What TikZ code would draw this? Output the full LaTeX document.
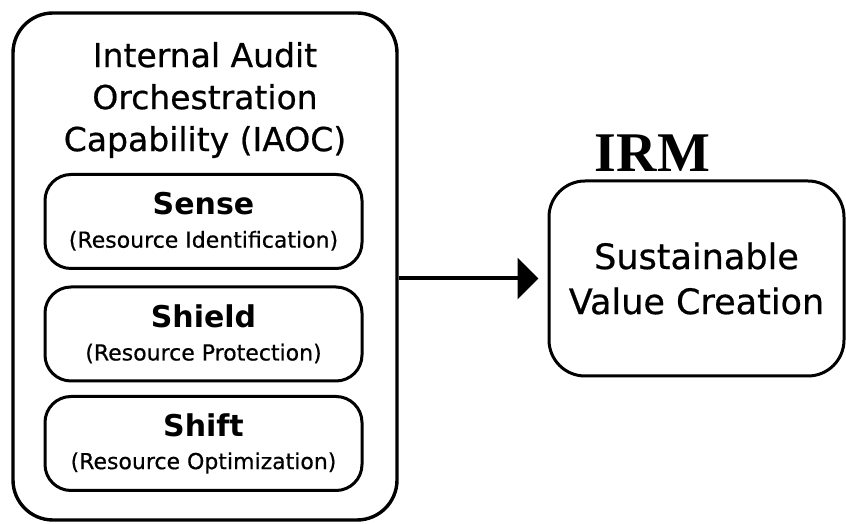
\documentclass[tikz,border=0pt]{standalone}
\usepackage{fontspec}
\setmainfont{DejaVu Sans}
\newfontfamily\medfont[FakeBold=0.6]{DejaVu Sans}
\newfontfamily\irmfont{Liberation Serif}
\usetikzlibrary{positioning,arrows.meta}

\begin{document}
\begin{tikzpicture}[x=1pt, y=1pt, >={Triangle[length=21pt,width=41pt]},
	panel/.style={draw, line width=3.4pt, rounded corners=40pt, minimum width=384pt, minimum height=507pt, inner sep=0pt},
	titletext/.style={align=center, inner sep=0pt, font=\medfont\fontsize{33}{42}\selectfont},
	stagebox/.style={draw, line width=3pt, rounded corners=26pt, minimum width=317pt, minimum height=94pt, align=center, inner sep=0pt, font=\medfont\fontsize{22}{33}\selectfont},
	goalbox/.style={draw, line width=3pt, rounded corners=36pt, minimum width=295pt, minimum height=195pt, align=center, inner sep=0pt, font=\medfont\fontsize{35}{45}\selectfont},
	irmlabel/.style={inner sep=0pt, font=\irmfont\bfseries\fontsize{56}{56}\selectfont}]
	\useasboundingbox (0,0) rectangle (846,524);

	% 1. 左侧大框与标题
	\node[panel] (iaoc) at (205,257.5) {};
	\node[titletext] (title) at (205,424) {Internal Audit\\Orchestration\\Capability (IAOC)};

	% 2. 三个阶段
	\node[stagebox] (sense) at (203.5,302.5) {{\rmfamily\fontsize{30}{30}\selectfont\bfseries Sense}\\(Resource Identification)};
	\node[stagebox] (shield) at (203.5,190) {{\rmfamily\fontsize{30}{30}\selectfont\bfseries Shield}\\(Resource Protection)};
	\node[stagebox] (shift) at (203.5,80.5) {{\rmfamily\fontsize{30}{30}\selectfont\bfseries Shift}\\(Resource Optimization)};

	% 3. 右侧目标框
	\node[goalbox] (goal) at (696.5,245.5) {Sustainable\\Value Creation};
	\node[irmlabel] (irm) [above=8pt of goal.north, xshift=-44pt] {IRM};

	% 4. 箭头
	\draw[->, line width=4pt, shorten >=9pt] (iaoc.east |- goal.west) -- (goal.west);
\end{tikzpicture}
\end{document}
